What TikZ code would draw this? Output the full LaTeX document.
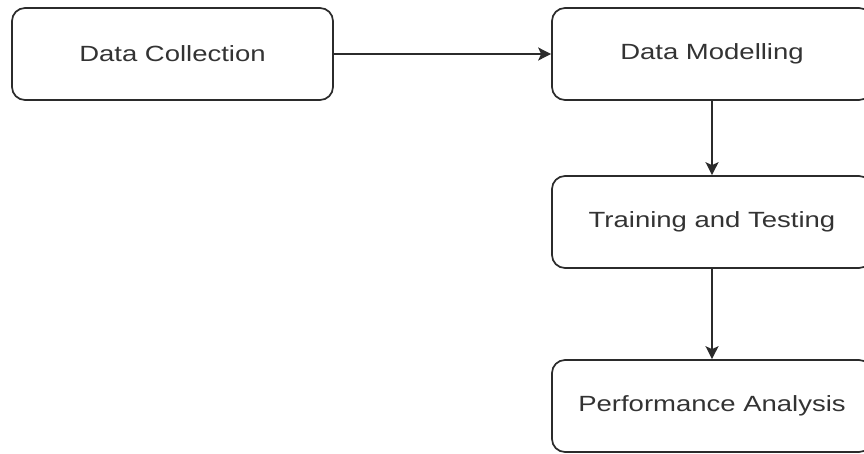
\documentclass[tikz,border=0pt]{standalone}
\usepackage{fontspec}
\setmainfont{Liberation Sans}
\usetikzlibrary{arrows.meta}
\definecolor{linec}{HTML}{2B2B2B}
\definecolor{textc}{HTML}{333333}
\newcommand{\widetext}[1]{\scalebox{1.25}[1]{#1}}
\tikzset{
  box/.style={draw=linec, line width=1.7pt, rounded corners=13pt, fill=white,
    minimum width=320pt, minimum height=92pt, inner sep=0pt,
    text=textc, font=\fontsize{22}{26}\selectfont},
  flow/.style={draw=linec, line width=1.7pt,
    -{Stealth[length=13pt, width=13pt, inset=3pt]}}
}
\begin{document}
\begin{tikzpicture}[x=1pt, y=1pt]
\clip (0,0) rectangle (864,-453);
\node[box, minimum width=321pt] (dc) at (172.5,-54) {\widetext{Data Collection}};
\node[box] (dm) at (712,-54) {\widetext{Data Modelling}};
\node[box] (tt) at (712,-222) {\widetext{Training and Testing}};
\node[box] (pa) at (712,-406) {\widetext{Performance Analysis}};
\draw[flow] (dc.east) -- (dm.west);
\draw[flow] (dm.south) -- (tt.north);
\draw[flow] (tt.south) -- (pa.north);
\end{tikzpicture}
\end{document}
